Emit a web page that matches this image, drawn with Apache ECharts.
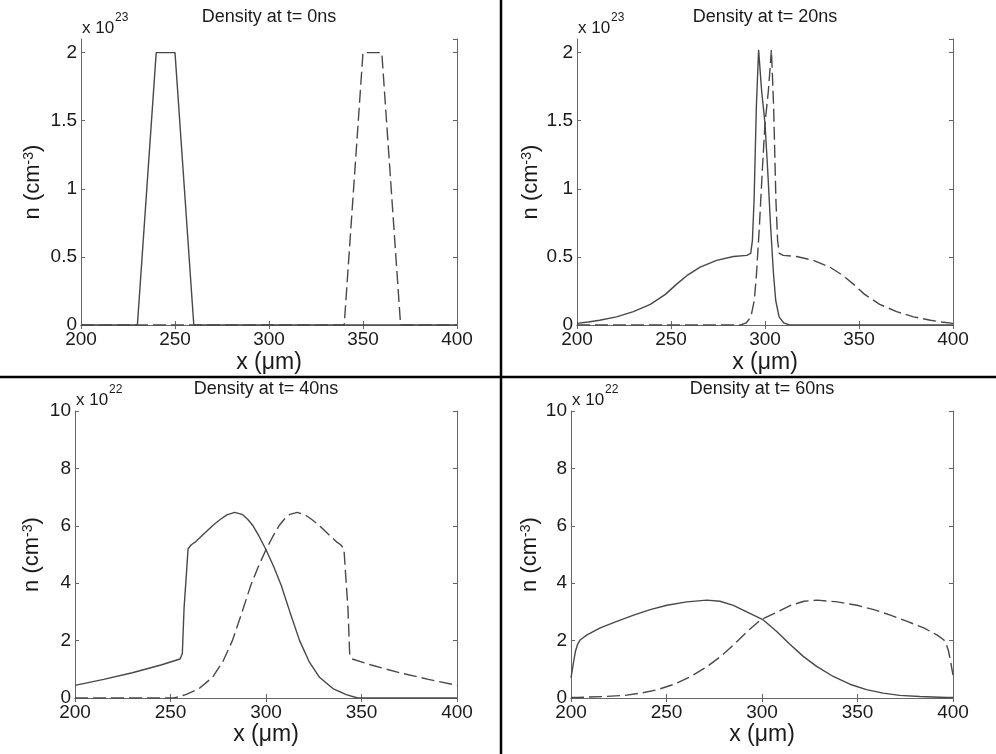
<!DOCTYPE html>
<html>
<head>
<meta charset="utf-8">
<script src="https://cdn.jsdelivr.net/npm/echarts@6/dist/echarts.min.js"></script>
<style>
  html, body { margin: 0; padding: 0; background: #fff; }
  #chart { width: 996px; height: 754px; }
</style>
</head>
<body>
<div id="chart"></div>
<script>
// Panel titles and the power of ten used on each y axis
const panelTitles = ['Density at t= 0ns', 'Density at t= 20ns', 'Density at t= 40ns', 'Density at t= 60ns'];
const panelExponents = ['23', '23', '22', '22'];
const yMaxima = [2.1, 2.1, 10, 10];
const yIntervals = [0.5, 0.5, 2, 2];
const xRange = [200, 400];
const xInterval = 50;

// t = 0 ns, density in units of 1e23 cm^-3; [x (um), n]
const t0Solid = [[200, 0], [230, 0], [240, 2], [250, 2], [260, 0], [400, 0]];
const t0Dashed = [[200, 0], [340, 0], [350, 2], [360, 2], [370, 0], [400, 0]];

// t = 20 ns, units of 1e23 cm^-3
const t20Solid = [
  [200, 0.012], [206, 0.022], [212, 0.035], [221, 0.06], [230, 0.098], [239, 0.152], [247, 0.225],
  [253, 0.3], [258.4, 0.362], [265.5, 0.425], [274.3, 0.475], [283.2, 0.503],
  [290.3, 0.511], [292.4, 0.526], [293.3, 0.62], [294.2, 0.92], [295.4, 1.6], [296.6, 2.02],
  [298.2, 1.72], [300, 1.48], [301.5, 1.12], [303, 0.72], [304.5, 0.38], [305.7, 0.18],
  [307.5, 0.06], [310, 0.015], [313, 0], [400, 0]
];
const t20Dashed = [
  [200, 0], [287, 0], [290, 0.015], [292.5, 0.06], [294.3, 0.18], [295.5, 0.38],
  [297, 0.72], [298.5, 1.12], [300, 1.48], [301.8, 1.72], [303.4, 2.02], [304.6, 1.6],
  [305.8, 0.92], [306.7, 0.62], [307.6, 0.526], [309.7, 0.511], [316.8, 0.503],
  [325.7, 0.475], [334.5, 0.425], [341.6, 0.362], [347, 0.3], [353, 0.225],
  [361, 0.152], [370, 0.098], [379, 0.06], [388, 0.035], [394, 0.022], [400, 0.012]
];

// t = 40 ns, units of 1e22 cm^-3
const t40Solid = [
  [200, 0.44], [215, 0.65], [230, 0.88], [245, 1.15], [255, 1.36], [256.2, 1.55],
  [257.1, 3.13], [258.3, 4.3], [259.2, 5.2], [260.9, 5.34], [262.7, 5.42], [265.3, 5.58],
  [268.8, 5.8], [272.3, 6.02], [276, 6.22], [279.5, 6.38], [283.6, 6.47], [287.5, 6.4],
  [290.5, 6.22], [293.2, 6.0], [296.5, 5.62], [300.2, 5.14], [304, 4.58], [308, 3.92],
  [312.5, 3.0], [317.6, 2.0], [322.5, 1.28], [328, 0.72], [335, 0.33], [342, 0.12],
  [348, 0], [400, 0]
];
const t40Dashed = [
  [200, 0], [252, 0], [258, 0.12], [265, 0.33], [272, 0.72], [277.5, 1.28], [282.4, 2.0],
  [287.5, 3.0], [292, 3.92], [296, 4.58], [299.8, 5.14], [303.5, 5.62], [306.8, 6.0],
  [309.5, 6.22], [312.5, 6.4], [316.4, 6.47], [320.5, 6.38], [324, 6.22], [327.7, 6.02],
  [331.2, 5.8], [334.7, 5.58], [337.3, 5.42], [339.1, 5.34], [340.8, 5.2], [341.7, 4.3],
  [342.9, 3.13], [343.8, 1.55], [345, 1.36], [355, 1.15], [370, 0.88], [385, 0.65], [400, 0.44]
];

// t = 60 ns, units of 1e22 cm^-3
const t60Solid = [
  [200, 0.7], [201.2, 1.2], [202.3, 1.62], [203.5, 1.88], [204.9, 2.03], [208.4, 2.2], [215.3, 2.44], [224, 2.67],
  [232.8, 2.89], [241.5, 3.08], [250.2, 3.23], [260.6, 3.35], [271.1, 3.41], [278, 3.37],
  [285, 3.23], [292, 3.0], [300.7, 2.72], [307.7, 2.32], [314.6, 1.87], [321.6, 1.45],
  [328.6, 1.1], [337.3, 0.75], [346, 0.48], [354.7, 0.29], [363.4, 0.17], [372.1, 0.09],
  [382.6, 0.05], [396.5, 0.02], [400, 0.02]
];
const t60Dashed = [
  [200, 0.02], [203.5, 0.02], [217.4, 0.05], [227.9, 0.09], [236.6, 0.17], [245.3, 0.29],
  [254, 0.48], [262.7, 0.75], [271.4, 1.1], [278.4, 1.45], [285.4, 1.87], [292.3, 2.32],
  [299.3, 2.72], [308, 3.0], [315, 3.23], [322, 3.37], [328.9, 3.41], [339.4, 3.35],
  [349.8, 3.23], [358.5, 3.08], [367.2, 2.89], [376, 2.67], [384.7, 2.44], [391.6, 2.2],
  [395.1, 2.03], [396.5, 1.88], [397.7, 1.62], [398.8, 1.25], [400, 0.8]
];

const solidSets = [t0Solid, t20Solid, t40Solid, t60Solid];
const dashedSets = [t0Dashed, t20Dashed, t40Dashed, t60Dashed];

// Plot boxes in pixels: left, top, width, height
const boxes = [
  { left: 81,  top: 39,  width: 376, height: 286 },
  { left: 577, top: 39,  width: 376, height: 286 },
  { left: 75,  top: 411, width: 382, height: 287 },
  { left: 571, top: 411, width: 382, height: 287 }
];
const yNameGaps = [37, 35, 32, 30];
const xNameGaps = [26, 26, 20, 20];

const FONT = 'Liberation Sans, Arial, Helvetica, sans-serif';
const INK = '#1a1a1a';
const FRAME = '#666';
const CURVE = '#484848';

const grids = [], xAxes = [], yAxes = [], series = [], graphics = [];

boxes.forEach((b, i) => {
  grids.push({ left: b.left, top: b.top, width: b.width, height: b.height, containLabel: false });

  const tickStyle = { show: true, inside: true, length: 4, lineStyle: { color: FRAME, width: 1 } };
  const lineStyle = { show: true, lineStyle: { color: FRAME, width: 1 } };

  // bottom x axis with labels, top x axis as the box edge
  xAxes.push({
    type: 'value', gridIndex: i, position: 'bottom', min: xRange[0], max: xRange[1], interval: xInterval,
    axisLine: lineStyle, axisTick: tickStyle, splitLine: { show: false },
    axisLabel: { show: true, margin: 5, fontSize: 19, color: INK, fontFamily: FONT },
    name: 'x (\u03bcm)', nameLocation: 'middle', nameGap: xNameGaps[i],
    nameTextStyle: { fontSize: 23, color: INK, fontFamily: FONT }
  });
  xAxes.push({
    type: 'value', gridIndex: i, position: 'top', min: xRange[0], max: xRange[1], interval: xInterval,
    axisLine: lineStyle, axisTick: tickStyle, splitLine: { show: false }, axisLabel: { show: false }
  });

  // left y axis with labels, right y axis as the box edge
  yAxes.push({
    type: 'value', gridIndex: i, position: 'left', min: 0, max: yMaxima[i], interval: yIntervals[i],
    axisLine: lineStyle, axisTick: tickStyle, splitLine: { show: false },
    axisLabel: { show: true, margin: 4, fontSize: 19, color: INK, fontFamily: FONT, showMaxLabel: yMaxima[i] % yIntervals[i] === 0 },
    name: '{a|n (cm}{s|-3}{a|)}', nameLocation: 'middle', nameGap: yNameGaps[i], nameRotate: 90,
    nameTextStyle: {
      color: INK, fontFamily: FONT,
      rich: {
        a: { fontSize: 22, color: INK, fontFamily: FONT },
        s: { fontSize: 14, color: INK, fontFamily: FONT, verticalAlign: 'top' }
      }
    }
  });
  yAxes.push({
    type: 'value', gridIndex: i, position: 'right', min: 0, max: yMaxima[i], interval: yIntervals[i],
    axisLine: lineStyle, axisTick: tickStyle, splitLine: { show: false }, axisLabel: { show: false }
  });

  series.push({
    type: 'line', xAxisIndex: 2 * i, yAxisIndex: 2 * i, data: solidSets[i],
    showSymbol: false, smooth: false,
    lineStyle: { color: CURVE, width: 1.4, type: 'solid' }, silent: true, z: 3
  });
  series.push({
    type: 'line', xAxisIndex: 2 * i, yAxisIndex: 2 * i, data: dashedSets[i],
    showSymbol: false, smooth: false,
    lineStyle: { color: CURVE, width: 1.4, type: [13, 5] }, silent: true, z: 3
  });

  // panel title above the box
  graphics.push({
    type: 'text', x: b.left + b.width / 2, y: b.top - 21.5,
    style: { text: panelTitles[i], fontSize: 18, fontFamily: FONT, fill: INK, textAlign: 'center', textVerticalAlign: 'middle' }
  });
  // multiplier for the y axis: "x 10" with a raised exponent
  graphics.push({
    type: 'text', x: b.left + 1, y: b.top - 10.5,
    style: { text: 'x 10', fontSize: 17, fontFamily: FONT, fill: INK, textAlign: 'left', textVerticalAlign: 'middle' }
  });
  graphics.push({
    type: 'text', x: b.left + 34, y: b.top - 21.5,
    style: { text: panelExponents[i], fontSize: 12, fontFamily: FONT, fill: INK, textAlign: 'left', textVerticalAlign: 'middle' }
  });
});

// separators between the four panels
graphics.push({ type: 'line', shape: { x1: 501, y1: 0, x2: 501, y2: 754 }, style: { stroke: '#000', lineWidth: 2.5 } });
graphics.push({ type: 'line', shape: { x1: 0, y1: 377, x2: 996, y2: 377 }, style: { stroke: '#000', lineWidth: 2.5 } });

const chart = echarts.init(document.getElementById('chart'), null, { renderer: 'canvas' });
chart.setOption({
  animation: false,
  backgroundColor: '#fff',
  grid: grids,
  xAxis: xAxes,
  yAxis: yAxes,
  series: series,
  graphic: graphics
});
</script>
</body>
</html>
